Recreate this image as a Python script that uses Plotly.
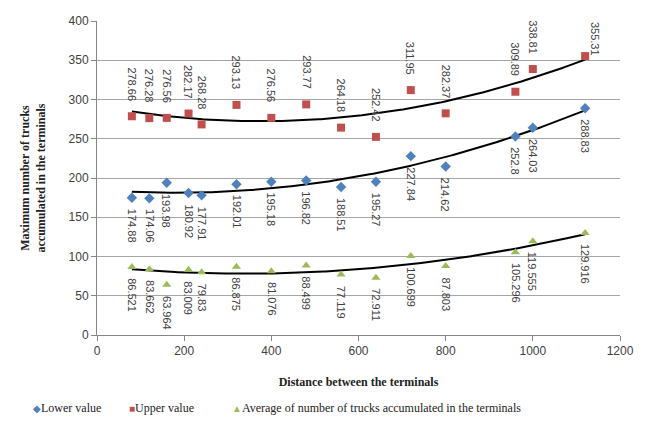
import numpy as np
import plotly.graph_objects as go

distance = [80, 120, 160, 210, 240, 320, 400, 480, 560, 640, 720, 800, 960, 1000, 1120]
lower = [174.88, 174.06, 193.98, 180.92, 177.91, 192.01, 195.18, 196.82, 188.51, 195.27,
         227.84, 214.62, 252.8, 264.03, 288.83]
upper = [278.66, 276.28, 276.56, 282.17, 268.28, 293.13, 276.56, 293.77, 264.18, 252.42,
         311.95, 282.37, 309.89, 338.81, 355.31]
average = [86.521, 83.662, 63.964, 83.009, 79.83, 86.875, 81.076, 88.499, 77.119, 72.911,
           100.699, 87.803, 105.296, 119.555, 129.916]
lower_txt = ["174.88", "174.06", "193.98", "180.92", "177.91", "192.01", "195.18", "196.82",
             "188.51", "195.27", "227.84", "214.62", "252.8", "264.03", "288.83"]
upper_txt = ["278.66", "276.28", "276.56", "282.17", "268.28", "293.13", "276.56", "293.77",
             "264.18", "252.42", "311.95", "282.37", "309.89", "338.81", "355.31"]
avg_txt = ["86.521", "83.662", "63.964", "83.009", "79.83", "86.875", "81.076", "88.499",
           "77.119", "72.911", "100.699", "87.803", "105.296", "119.555", "129.916"]
legend_names = ["Lower value", "Upper value",
                "Average of number of trucks accumulated in the terminals"]

BLUE = "#4F81BD"
RED = "#C0504D"
GREEN = "#9BBB59"

fig = go.Figure()

series = [
    (legend_names[0], lower, BLUE, "diamond"),
    (legend_names[1], upper, RED, "square"),
    (legend_names[2], average, GREEN, "triangle-up"),
]

xs = np.linspace(min(distance), max(distance), 200)
for name, vals, col, sym in series:
    c = np.polyfit(distance, vals, 2)
    fig.add_trace(go.Scatter(x=xs, y=np.polyval(c, xs), mode="lines",
                             line=dict(color="black", width=2), showlegend=False,
                             hoverinfo="skip"))

for name, vals, col, sym in series:
    fig.add_trace(go.Scatter(x=distance, y=vals, mode="markers", name=name,
                             marker=dict(color=col, symbol=sym, size=8), showlegend=False))

lab_font = dict(family="Arial, Liberation Sans", size=11, color="#404040")
for i, x in enumerate(distance):
    if i == len(distance) - 1:
        fig.add_annotation(x=x, y=upper[i], text=upper_txt[i], textangle=90, showarrow=False,
                           xanchor="left", yanchor="bottom", xshift=2, yshift=-2, font=lab_font)
    else:
        fig.add_annotation(x=x, y=upper[i], text=upper_txt[i], textangle=90, showarrow=False,
                           yanchor="bottom", yshift=13, font=lab_font)
    fig.add_annotation(x=x, y=lower[i], text=lower_txt[i], textangle=90, showarrow=False,
                       yanchor="top", yshift=-9, font=lab_font)
    fig.add_annotation(x=x, y=average[i], text=avg_txt[i], textangle=90, showarrow=False,
                       yanchor="top", yshift=-9, font=lab_font)

# legend drawn as text with symbols
leg_font = dict(family="Liberation Serif, Times New Roman", size=12, color="#222")
leg_items = [("◆", BLUE, legend_names[0], 30), ("■", RED, legend_names[1], 128),
             ("▲", GREEN, legend_names[2], 232)]
for sym, col, name, px in leg_items:
    fig.add_annotation(xref="paper", yref="paper", x=(px - 97) / 532, y=-0.233,
                       xanchor="left", yanchor="middle", showarrow=False,
                       text=f"<span style='color:{col};font-size:10px'>{sym}</span>{name}",
                       font=leg_font)

fig.update_layout(
    width=646, height=424,
    margin=dict(l=97, r=17, t=21, b=89),
    paper_bgcolor="white", plot_bgcolor="white",
    showlegend=False,
    font=dict(family="Arial", size=12, color="#404040"),
    xaxis=dict(range=[0, 1200], dtick=200, showgrid=False, showline=True,
               linecolor="#868686", ticks="outside", tickcolor="#868686", ticklen=5,
               zeroline=False,
               tickfont=dict(family="Arial", size=12, color="#404040"),
               title=dict(text="<b>Distance between the terminals</b>",
                          font=dict(family="Liberation Serif, Times New Roman", size=12, color="#222"),
                          standoff=20)),
    yaxis=dict(range=[0, 400], dtick=50, showgrid=True, gridcolor="#A6A6A6", gridwidth=1,
               showline=True, linecolor="#868686", ticks="outside", tickcolor="#868686",
               ticklen=5, zeroline=False,
               tickfont=dict(family="Arial", size=12, color="#404040"),
               title=dict(text="<b>Maximum number of trucks<br>accumulated in the terminals</b>",
                          font=dict(family="Liberation Serif, Times New Roman", size=12, color="#222"),
                          standoff=20)),
)

fig.write_html("out.html")
